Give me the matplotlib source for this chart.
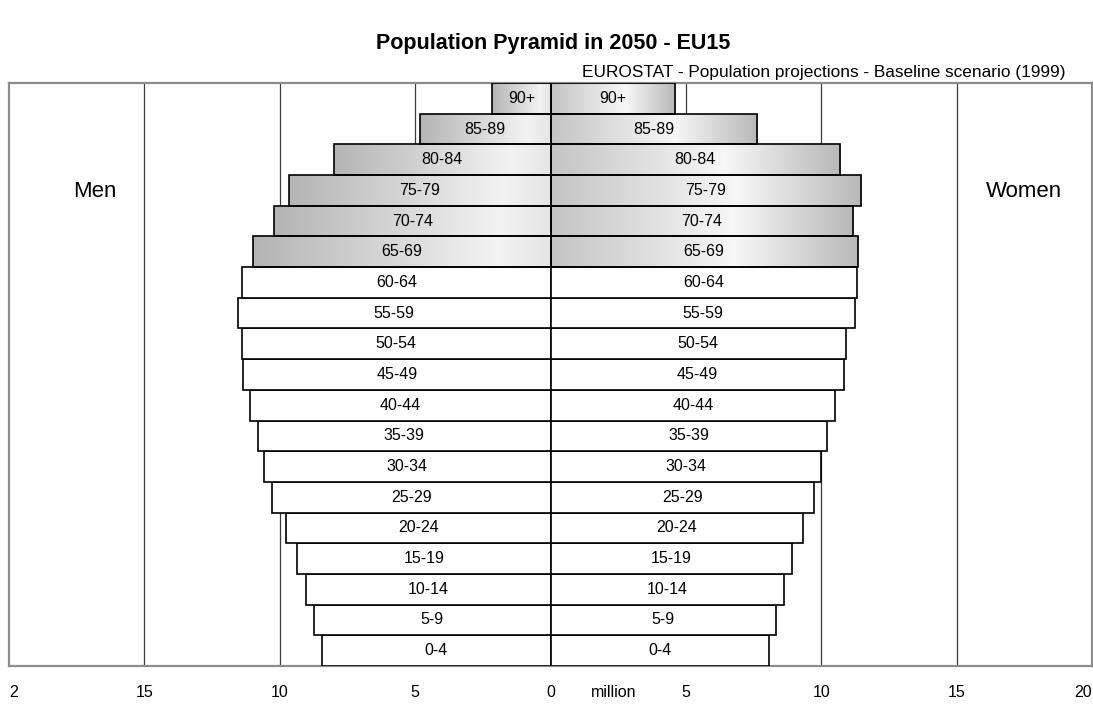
import numpy as np
import matplotlib
matplotlib.use("Agg")
import matplotlib.pyplot as plt
from matplotlib.colors import LinearSegmentedColormap
from matplotlib.transforms import blended_transform_factory

plt.rcParams['font.family'] = ['Liberation Sans', 'DejaVu Sans']

# Age groups, youngest first (bottom of the pyramid)
age_groups = ["0-4", "5-9", "10-14", "15-19", "20-24", "25-29", "30-34",
              "35-39", "40-44", "45-49", "50-54", "55-59", "60-64",
              "65-69", "70-74", "75-79", "80-84", "85-89", "90+"]
# Population in millions
men = [8.45, 8.73, 9.03, 9.35, 9.77, 10.27, 10.60, 10.82, 11.10, 11.36,
       11.39, 11.56, 11.39, 10.99, 10.22, 9.64, 8.01, 4.83, 2.15]
women = [8.06, 8.32, 8.61, 8.92, 9.33, 9.72, 9.98, 10.20, 10.52, 10.84,
         10.92, 11.25, 11.32, 11.34, 11.17, 11.47, 10.70, 7.63, 4.60]
elderly_from = "65-69"  # groups from here upward get a shaded fill

tick_values = [-20, -15, -10, -5, 0, 5, 10, 15, 20]
tick_labels = ["2", "15", "10", "5", "0", "5", "10", "15", "20"]

W, H = 1093, 704
fig = plt.figure(figsize=(W / 100, H / 100), dpi=100)
ax = fig.add_axes([9 / W, 1 - 666 / H, (W - 10) / W, (666 - 83) / H])

ypos = np.arange(len(age_groups))
first_old = age_groups.index(elderly_from)

# Shading ramps (outer edge -> centre for men, centre -> outer edge for women)
men_cmap = LinearSegmentedColormap.from_list(
    "men", [(0.0, "#b4b4b4"), (0.82, "#f3f3f3"), (1.0, "#e4e4e4")])
women_cmap = LinearSegmentedColormap.from_list(
    "women", [(0.0, "#c4c4c4"), (0.6, "#f7f7f7"), (1.0, "#b8b8b8")])
ramp = np.linspace(0, 1, 256).reshape(1, -1)

for i, grp in enumerate(age_groups):
    shaded = i >= first_old
    for val, sign, cmap in ((men[i], -1, men_cmap), (women[i], 1, women_cmap)):
        bar = ax.barh(ypos[i], sign * val, height=1.0, left=0,
                      color="white" if not shaded else "none",
                      edgecolor="black", linewidth=1.2, zorder=3)[0]
        if shaded:
            x0, x1 = (-val, 0) if sign < 0 else (0, val)
            img = ax.imshow(ramp, cmap=cmap, vmin=0, vmax=1, aspect="auto",
                            extent=[x0, x1, ypos[i] - 0.5, ypos[i] + 0.5],
                            interpolation="bilinear", zorder=2)
            img.set_clip_path(bar)
        ax.text(sign * val / 2, ypos[i], grp, ha="center", va="center",
                fontsize=11.5, color="black", zorder=4)

ax.set_xlim(-20, 20)
ax.set_ylim(-0.5, len(age_groups) - 0.5)

for v in (-15, -10, -5, 5, 10, 15):
    ax.axvline(v, color="#3a3a3a", linewidth=0.9, zorder=1)

for s in ax.spines.values():
    s.set_color("#8c8c8c")
    s.set_linewidth(1.6)

ax.set_yticks([])
ax.set_xticks(tick_values)
ax.set_xticklabels(tick_labels, fontsize=11.5, color="black")
ax.tick_params(axis="x", length=0, pad=14)
labels = ax.get_xticklabels()
labels[0].set_ha("left")
labels[-1].set_ha("right")

trans = blended_transform_factory(ax.transData, ax.transAxes)
ax.annotate("million", xy=(2.33, 0), xycoords=trans, xytext=(0, -14),
            textcoords="offset points", ha="center", va="top",
            fontsize=11.5, color="black")

label_row = age_groups.index("75-79")
ax.text(-16.83, ypos[label_row] - 0.05, "Men", ha="center", va="center",
        fontsize=16, color="black")
ax.text(17.47, ypos[label_row] - 0.05, "Women", ha="center", va="center",
        fontsize=16, color="black")

fig.text(553 / W, 1 - 44 / H, "Population Pyramid in 2050 - EU15",
         ha="center", va="center", fontsize=15.5, fontweight="bold",
         color="black")
fig.text(1066 / W, 1 - 73 / H,
         "EUROSTAT - Population projections - Baseline scenario (1999)",
         ha="right", va="center", fontsize=12.4, color="black")

fig.savefig("out.png", dpi=100)
